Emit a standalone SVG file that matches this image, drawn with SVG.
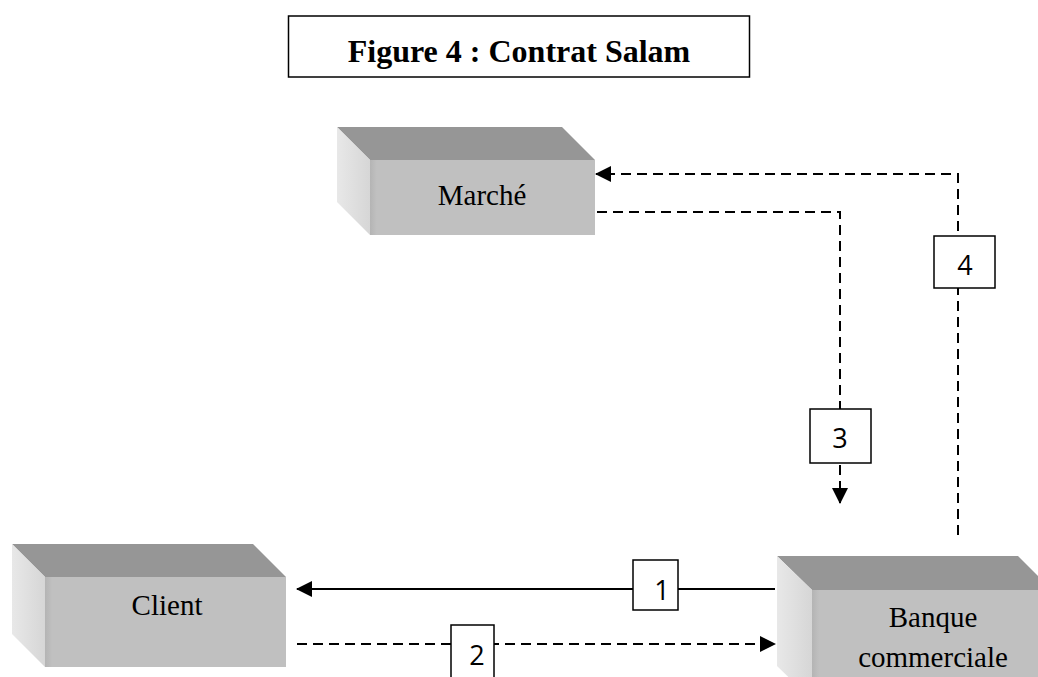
<svg xmlns="http://www.w3.org/2000/svg" width="1038" height="677" viewBox="0 0 1038 677">
  <style>
    .top { fill: #969696; }
    .side { fill: url(#sideShade); }
    .front { fill: url(#frontShade); }
    .node-label { font-family: "Liberation Serif", "Times New Roman", serif; font-size: 29px; fill: #000; text-anchor: middle; }
    .title { font-family: "Liberation Serif", "Times New Roman", serif; font-size: 32px; font-weight: bold; fill: #000; text-anchor: middle; }
    .tag-box { fill: #fff; stroke: #000; stroke-width: 1.5; }
    .tag { font-family: "Open Sans", "Noto Sans", sans-serif; font-size: 27px; fill: #000; text-anchor: middle; }
    .link { fill: none; stroke: #000; stroke-width: 2; }
    .dashed { stroke-dasharray: 10 6; }
  </style>
  <defs>
    <linearGradient id="sideShade" x1="0" y1="0" x2="1" y2="0">
      <stop offset="0" stop-color="#e8e8e8"/>
      <stop offset="1" stop-color="#d6d6d6"/>
    </linearGradient>
    <linearGradient id="frontShade" x1="0" y1="0" x2="1" y2="0">
      <stop offset="0" stop-color="#b4b4b4"/>
      <stop offset="0.03" stop-color="#c0c0c0"/>
      <stop offset="1" stop-color="#c0c0c0"/>
    </linearGradient>
    <marker id="arrow" viewBox="0 0 16 16" refX="15" refY="8" markerWidth="16" markerHeight="16" markerUnits="userSpaceOnUse" orient="auto">
      <path d="M0,0 L16,8 L0,16 Z" fill="#000" stroke="none"/>
    </marker>
  </defs>

  <!-- Title -->
  <g id="title">
    <rect x="288.5" y="16" width="461" height="61" fill="#fff" stroke="#000" stroke-width="1.5"/>
    <text class="title" x="519" y="62">Figure 4 : Contrat Salam</text>
  </g>

  <!-- Marché -->
  <g id="marche">
    <polygon class="top" points="337,127 562,127 595,160 370,160"/>
    <polygon class="side" points="337,127 370,160 370,235 337,202"/>
    <rect class="front" x="370" y="160" width="225" height="75"/>
    <text class="node-label" x="482" y="205">Marché</text>
  </g>

  <!-- Client -->
  <g id="client">
    <polygon class="top" points="12,544 253,544 286,577 45,577"/>
    <polygon class="side" points="12,544 45,577 45,667 12,634"/>
    <rect class="front" x="45" y="577" width="241" height="90"/>
    <text class="node-label" x="167" y="615">Client</text>
  </g>

  <!-- Banque commerciale -->
  <g id="banque">
    <polygon class="top" points="777,556 1018,556 1052,590 812,590"/>
    <polygon class="side" points="777,556 812,590 812,700 777,666"/>
    <rect class="front" x="812" y="590" width="240" height="110"/>
    <text class="node-label" x="933" y="627">Banque</text>
    <text class="node-label" x="933" y="667">commerciale</text>
  </g>

  <!-- Connectors -->
  <g id="connectors">
    <path class="link" d="M775,589 H297" marker-end="url(#arrow)"/>
    <path class="link dashed" d="M297,644 H775" marker-end="url(#arrow)"/>
    <path class="link dashed" d="M597,212 H840 V503" marker-end="url(#arrow)"/>
    <path class="link dashed" d="M958,535 V174 H596" marker-end="url(#arrow)"/>

    <g id="tag1">
      <rect class="tag-box" x="633" y="560" width="45" height="50"/>
      <text class="tag" x="662" y="600">1</text>
    </g>
    <g id="tag2">
      <rect class="tag-box" x="451" y="625" width="43" height="60"/>
      <text class="tag" x="477" y="665">2</text>
    </g>
    <g id="tag3">
      <rect class="tag-box" x="810" y="409" width="61" height="54"/>
      <text class="tag" x="840" y="448">3</text>
    </g>
    <g id="tag4">
      <rect class="tag-box" x="934" y="236" width="61" height="52"/>
      <text class="tag" x="965" y="275">4</text>
    </g>
  </g>
</svg>
